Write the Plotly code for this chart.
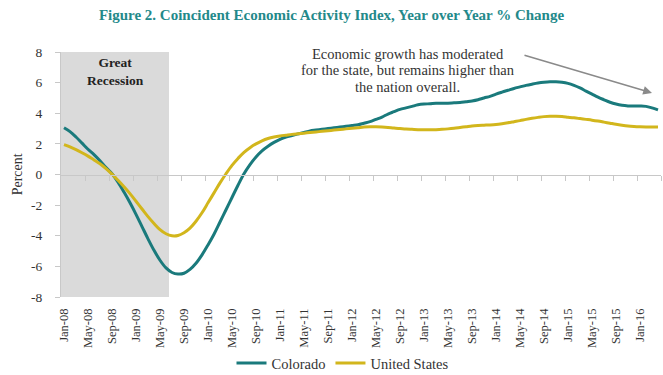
import plotly.graph_objects as go

# Monthly year-over-year % change, Jan 2008 - Apr 2016
months = [f"{m}-{y:02d}" for y in range(8, 17) for m in
          ["Jan", "Feb", "Mar", "Apr", "May", "Jun", "Jul", "Aug", "Sep", "Oct", "Nov", "Dec"]][:100]

colorado = [
    3.05, 2.80, 2.45, 2.05, 1.65, 1.30, 0.90, 0.45, 0.05, -0.50,
    -1.15, -1.85, -2.60, -3.40, -4.20, -4.95, -5.60, -6.10, -6.40, -6.50,
    -6.45, -6.20, -5.80, -5.25, -4.60, -3.90, -3.10, -2.30, -1.50, -0.70,
    0.05, 0.65, 1.15, 1.55, 1.85, 2.10, 2.30, 2.45, 2.55, 2.65,
    2.75, 2.85, 2.90, 2.95, 3.00, 3.05, 3.10, 3.15, 3.20, 3.25,
    3.35, 3.45, 3.60, 3.75, 3.95, 4.10, 4.25, 4.35, 4.45, 4.55,
    4.60, 4.62, 4.65, 4.65, 4.66, 4.68, 4.70, 4.75, 4.80, 4.88,
    5.00, 5.10, 5.25, 5.38, 5.50, 5.62, 5.72, 5.82, 5.90, 5.97,
    6.02, 6.05, 6.05, 6.02, 5.95, 5.82, 5.65, 5.45, 5.25, 5.05,
    4.88, 4.72, 4.60, 4.52, 4.48, 4.47, 4.47, 4.45, 4.35, 4.22,
]

united_states = [
    1.95, 1.80, 1.62, 1.42, 1.20, 0.95, 0.70, 0.38, 0.02, -0.38,
    -0.80, -1.25, -1.75, -2.25, -2.75, -3.20, -3.60, -3.87, -4.00, -3.98,
    -3.80, -3.50, -3.05, -2.50, -1.85, -1.20, -0.55, 0.05, 0.60, 1.05,
    1.45, 1.75, 2.00, 2.20, 2.35, 2.45, 2.52, 2.57, 2.62, 2.66,
    2.70, 2.74, 2.78, 2.82, 2.86, 2.90, 2.94, 2.98, 3.02, 3.06,
    3.10, 3.12, 3.12, 3.10, 3.07, 3.03, 3.00, 2.97, 2.95, 2.93,
    2.92, 2.92, 2.93, 2.95, 2.98, 3.02, 3.07, 3.12, 3.17, 3.20,
    3.22, 3.24, 3.27, 3.32, 3.38, 3.45, 3.52, 3.60, 3.67, 3.73,
    3.78, 3.80, 3.80, 3.78, 3.74, 3.70, 3.65, 3.60, 3.55, 3.49,
    3.42, 3.35, 3.28, 3.22, 3.17, 3.14, 3.12, 3.11, 3.11, 3.10,
]

# Great Recession: Dec 2007 - Jun 2009 (months shown from Jan-08 through Jun-09)
recession_first = "Jan-08"
recession_last = "Jun-09"

y_ticks = [8, 6, 4, 2, 0, -2, -4, -6, -8]
y_labels = ["8", "6", "4", "2", "0", "-2", "-4", "-6", "-8"]

note_lines = [
    "Economic growth has moderated",
    "for the state, but remains higher than",
    "the nation overall.",
]

TEAL = "#1a7a7c"
GOLD = "#d2b61c"
SERIF = "Liberation Serif"
TEXT = "#333333"

idx = list(range(len(months)))
label_idx = idx[::4]
label_text = [months[i] for i in label_idx]
boundary_ticks = [i - 0.5 for i in label_idx[1:]] + [len(months) - 0.5]

fig = go.Figure()
fig.add_trace(go.Scatter(x=idx, y=colorado, name="Colorado", mode="lines",
                         line=dict(color=TEAL, width=3, shape="spline")))
fig.add_trace(go.Scatter(x=idx, y=united_states, name="United States", mode="lines",
                         line=dict(color=GOLD, width=3, shape="spline")))
# invisible trace on the secondary x axis so it renders (zero line with tick marks)
fig.add_trace(go.Scatter(x=[idx[0]], y=[0], xaxis="x2", mode="markers",
                         marker=dict(opacity=0), showlegend=False, hoverinfo="skip"))

fig.add_shape(type="rect", xref="x", yref="y", layer="below", line_width=0,
              x0=months.index(recession_first) - 0.5,
              x1=months.index(recession_last) + 0.5,
              y0=min(y_ticks), y1=max(y_ticks), fillcolor="#dadada")

fig.add_annotation(x=months.index(recession_first) + 8.5, y=6.75, xref="x", yref="y",
                   text="<b>Great<br>Recession</b>", showarrow=False,
                   font=dict(family=SERIF, size=13.5, color="#222222"))

# three-line note, one annotation per line for tight line spacing
for k, line in enumerate(note_lines):
    fig.add_annotation(x=0.578, y=0.993 - k * 0.068, xref="paper", yref="paper",
                       text=line, showarrow=False, xanchor="center", yanchor="middle",
                       font=dict(family=SERIF, size=14.5, color=TEXT))

fig.add_annotation(x=98.0, y=5.33, xref="x", yref="y", text="",
                   showarrow=True, ax=-129, ay=-38, axref="pixel", ayref="pixel",
                   arrowhead=2, arrowsize=1.1, arrowwidth=1.6, arrowcolor="#8a8a8a")

fig.add_annotation(x=-0.072, y=0.5, xref="paper", yref="paper", text="Percent",
                   textangle=-90, showarrow=False, xanchor="center", yanchor="middle",
                   font=dict(family=SERIF, size=14, color=TEXT))

fig.update_layout(
    width=663, height=375,
    margin=dict(l=61, r=2, t=52, b=78, autoexpand=False),
    paper_bgcolor="white", plot_bgcolor="white",
    font=dict(family=SERIF, size=12, color=TEXT),
    title=dict(text="<b>Figure 2. Coincident Economic Activity Index, Year over Year % Change</b>",
               x=0.5, xanchor="center", y=0.96, yanchor="middle",
               font=dict(family=SERIF, size=15, color="#23898a")),
    xaxis=dict(range=[-0.5, len(months) - 0.5], tickvals=label_idx, ticktext=label_text,
               tickangle=-90, showgrid=False, zeroline=False, showline=False,
               ticks="", ticklabelstandoff=8, automargin=False,
               tickfont=dict(family=SERIF, size=12.5, color=TEXT)),
    xaxis2=dict(range=[-0.5, len(months) - 0.5], overlaying="x", anchor="free", position=0.5,
                tickvals=boundary_ticks, showticklabels=False, ticks="outside", ticklen=5,
                tickcolor="#c8c8c8", showline=True, linecolor="#c8c8c8", linewidth=1,
                showgrid=False, zeroline=False, automargin=False),
    yaxis=dict(range=[-8, 8], tickvals=y_ticks, ticktext=y_labels, showgrid=False,
               zeroline=False, showline=True, linecolor="#c8c8c8", ticks="outside",
               ticklen=5, tickcolor="#c8c8c8", ticklabelstandoff=10, automargin=False,
               tickfont=dict(family=SERIF, size=13.5, color=TEXT)),
    legend=dict(orientation="h", x=0.47, xanchor="center", y=-0.27, yanchor="middle",
                bgcolor="rgba(0,0,0,0)",
                font=dict(family=SERIF, size=14.5, color=TEXT), itemwidth=30),
    showlegend=True,
)

fig.write_html("out.html")
